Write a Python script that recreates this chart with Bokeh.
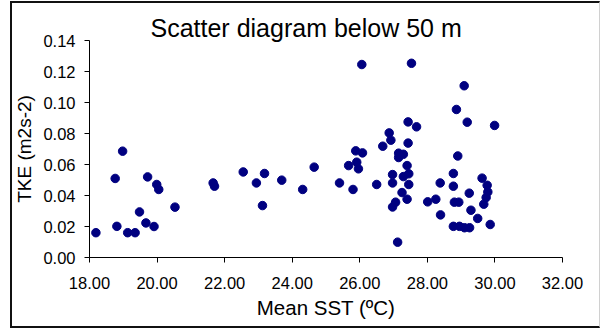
from bokeh.plotting import figure
from bokeh.models import FixedTicker, NumeralTickFormatter, Range1d, GlobalInlineStyleSheet
from bokeh.embed import file_html
from bokeh.resources import INLINE

title_text = "Scatter diagram below 50 m"
x_label = "Mean SST (ºC)"
y_label = "TKE (m2s-2)"

x_ticks = [18, 20, 22, 24, 26, 28, 30, 32]
y_ticks = [0.0, 0.02, 0.04, 0.06, 0.08, 0.10, 0.12, 0.14]

sst = [18.19, 18.81, 18.76, 18.98, 19.13, 19.35, 19.48, 19.67, 19.72, 19.91,
       19.99, 20.05, 20.53, 21.66, 21.70, 22.55, 22.94, 23.18, 23.12, 23.69,
       24.31, 24.65, 25.40, 25.67, 25.80, 25.88, 26.08, 25.91, 25.96, 26.50,
       26.06, 27.53, 26.68, 26.87, 26.92, 27.43, 27.68, 27.43, 27.15, 27.29,
       27.15, 27.40, 26.97, 27.45, 27.29, 26.97, 27.45, 27.25, 27.40, 27.06,
       26.97, 27.12, 28.01, 28.25, 28.38, 28.39, 28.90, 28.77, 28.77, 28.80,
       28.93, 28.77, 28.95, 29.10, 29.25, 29.24, 29.29, 29.49, 29.86, 29.62,
       29.77, 29.79, 29.74, 29.67, 29.09, 28.86, 29.18, 29.99]
tke = [0.0160, 0.0201, 0.0510, 0.0686, 0.0160, 0.0160, 0.0294, 0.0223, 0.0520, 0.0200,
       0.0471, 0.0439, 0.0325, 0.0481, 0.0460, 0.0552, 0.0481, 0.0542, 0.0335, 0.0499,
       0.0439, 0.0583, 0.0481, 0.0593, 0.0439, 0.0688, 0.0675, 0.0615, 0.0572, 0.0471,
       0.1245, 0.1253, 0.0718, 0.0804, 0.0757, 0.0875, 0.0843, 0.0738, 0.0673, 0.0666,
       0.0645, 0.0593, 0.0535, 0.0540, 0.0522, 0.0481, 0.0471, 0.0419, 0.0376, 0.0357,
       0.0326, 0.0099, 0.0359, 0.0376, 0.0481, 0.0275, 0.0655, 0.0542, 0.0460, 0.0357,
       0.0357, 0.0201, 0.0201, 0.0192, 0.0192, 0.0415, 0.0305, 0.0252, 0.0213, 0.0512,
       0.0466, 0.0423, 0.0387, 0.0344, 0.1108, 0.0955, 0.0873, 0.0852]

FONT = "Liberation Sans"

border_css = GlobalInlineStyleSheet(css="""
body::after {
  content: "";
  position: fixed;
  left: 10px; top: 1px; width: 590px; height: 327px;
  box-sizing: border-box;
  border-left: 2px solid #111111;
  border-top: 2px solid #111111;
  border-bottom: 2px solid #111111;
  border-right: 1px solid #d0d0d0;
  pointer-events: none;
  z-index: 10;
}
""")

p = figure(width=600, height=328, output_backend="svg", toolbar_location=None,
           x_range=Range1d(18, 32), y_range=Range1d(0, 0.14),
           min_border_left=89, min_border_right=38, min_border_top=40, min_border_bottom=71)
p.stylesheets = [border_css]
p.outline_line_color = None
p.xgrid.visible = False
p.ygrid.visible = False
p.background_fill_color = "white"
p.border_fill_color = "white"

p.scatter(sst, tke, size=8.5, marker="circle", fill_color="#000080", line_color="#000080")

for ax in (p.xaxis[0], p.yaxis[0]):
    ax.axis_line_color = "black"
    ax.major_tick_line_color = "black"
    ax.minor_tick_line_color = None
    ax.major_tick_in = 0
    ax.major_tick_out = 5
    ax.major_label_text_font = FONT
    ax.major_label_text_font_size = "16.5px"
    ax.major_label_text_color = "black"
    ax.axis_label_text_font = FONT
    ax.axis_label_text_font_style = "normal"
    ax.axis_label_text_color = "black"
    ax.formatter = NumeralTickFormatter(format="0.00")

p.xaxis[0].ticker = FixedTicker(ticks=x_ticks)
p.yaxis[0].ticker = FixedTicker(ticks=y_ticks)
p.xaxis[0].major_label_standoff = 14
p.yaxis[0].major_label_standoff = 9
p.xaxis[0].axis_label = x_label
p.yaxis[0].axis_label = y_label
p.xaxis[0].axis_label_text_font_size = "20.5px"
p.yaxis[0].axis_label_text_font_size = "19px"
p.xaxis[0].axis_label_standoff = 4
p.yaxis[0].axis_label_standoff = 5

p.title.text = title_text
p.title.align = "left"
p.title.offset = 61
p.title.standoff = -3
p.title.text_font = FONT
p.title.text_font_size = "25px"
p.title.text_font_style = "normal"
p.title.text_color = "black"

open("out.html", "w").write(file_html(p, INLINE))
